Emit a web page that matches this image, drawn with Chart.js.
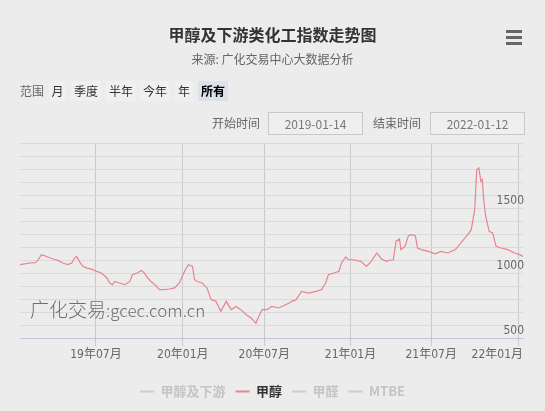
<!DOCTYPE html>
<html>
<head>
<meta charset="utf-8">
<script src="https://cdn.jsdelivr.net/npm/chart.js@4.4.1/dist/chart.umd.min.js"></script>
<style>
  html, body { margin: 0; padding: 0; background: #ececec; }
  #wrap { position: relative; width: 545px; height: 411px; background: #ececec; overflow: hidden;
    font-family: "Noto Sans CJK SC", "Noto Sans", sans-serif; }
  #c { position: absolute; left: 0; top: 0; }
  .abs { position: absolute; white-space: nowrap; }
  #title { left: 0; width: 545px; top: 22px; text-align: center; font-size: 16px; font-weight: bold; color: #333; line-height: 24px; }
  #subtitle { left: 0; width: 545px; top: 50px; text-align: center; font-size: 12px; color: #666; line-height: 18px; }
  .bar { position: absolute; left: 506px; width: 16px; height: 3px; background: #666; }
  .lbl { font-size: 12px; color: #666; line-height: 20px; }
  .btn { font-size: 12px; color: #333; line-height: 20px; height: 20px; text-align: center; background: rgba(255,255,255,0.22); }
  .btn.sel { background: #dde1ea; color: #000; font-weight: bold; }
  .box { border: 1px solid #c8c8c8; height: 21px; line-height: 21px; text-align: center; font-size: 12px; color: #777; background: #efefef; }
  #wm { left: 30px; top: 296px; color: #6e6e6e; font-size: 19px; line-height: 26px; font-weight: 300; }
  #wm span { font-size: 17px; }
</style>
</head>
<body>
<div id="wrap">
  <canvas id="c" width="545" height="411"></canvas>
  <div id="title" class="abs">甲醇及下游类化工指数走势图</div>
  <div id="subtitle" class="abs">来源: 广化交易中心大数据分析</div>
  <div class="bar" style="top:30px"></div>
  <div class="bar" style="top:36px"></div>
  <div class="bar" style="top:42px"></div>

  <div class="abs lbl" style="left:20px; top:81px;">范围</div>
  <div class="abs btn" style="left:49px; top:81px; width:17px;">月</div>
  <div class="abs btn" style="left:71px; top:81px; width:30px;">季度</div>
  <div class="abs btn" style="left:106px; top:81px; width:30px;">半年</div>
  <div class="abs btn" style="left:140px; top:81px; width:30px;">今年</div>
  <div class="abs btn" style="left:175px; top:81px; width:18px;">年</div>
  <div class="abs btn sel" style="left:198px; top:81px; width:30px;">所有</div>

  <div class="abs lbl" style="left:212px; top:113px;">开始时间</div>
  <div class="abs box" style="left:268px; top:112px; width:93px;">2019-01-14</div>
  <div class="abs lbl" style="left:373px; top:113px;">结束时间</div>
  <div class="abs box" style="left:430px; top:112px; width:93px;">2022-01-12</div>

  <div id="wm" class="abs">广化交易<span>:gcec.com.cn</span></div>
</div>
<script>
// ---- data ----
const tradingDay = [0,7,14,22,26,31,36,40,48,55,62,69,75,79,82,87,91,97,104,111,118,126,130,134,137,144,152,159,163,170,176,180,185,190,198,202,209,216,224,231,235,241,244,250,253,257,264,271,277,284,291,299,306,313,320,328,335,342,346,351,358,365,375,385,390,394,400,408,418,429,437,443,447,455,462,466,472,476,483,494,502,509,517,524,531,537,541,545,550,552,558,563,567,573,576,582,592,602,610,620,631,639,649,654,659,662,665,668,670,672,675,680,685,690,697,707,717,724,729];
const methanol = [1064,1070,1077,1080,1097,1140,1133,1123,1108,1097,1077,1064,1077,1115,1128,1082,1051,1038,1030,1012,1000,962,923,910,935,923,910,935,987,1000,1020,1000,962,935,897,872,872,877,885,923,974,1038,1064,1051,949,935,923,885,795,782,705,782,718,743,718,679,654,615,666,718,718,743,731,756,769,782,795,858,846,858,872,923,987,1000,1012,1077,1123,1102,1102,1090,1051,1090,1154,1108,1090,1100,1102,1243,1262,1180,1205,1287,1295,1287,1192,1180,1166,1148,1166,1154,1180,1231,1295,1333,1487,1795,1808,1705,1718,1564,1435,1320,1308,1205,1192,1180,1154,1141,1128];
const xTickPositions = [110, 236, 354, 479, 596, 722];
const xTickLabels = ['19年07月', '20年01月', '20年07月', '21年01月', '21年07月', '22年01月'];
const yLabelValues = [500, 1000, 1500];
const legendNames = ['甲醇及下游', '甲醇', '甲醛', 'MTBE'];
const legendActive = [false, true, false, false];

const LINE = '#e8838f';
const FONT = '"Noto Sans CJK SC", "Noto Sans", sans-serif';
const NUMFONT = '"Liberation Sans Narrow", "DejaVu Sans Condensed", "Noto Sans CJK SC", sans-serif';

const xLabelPlugin = {
  id: 'xLabels',
  afterDraw(chart) {
    const s = chart.scales.x, ctx = chart.ctx, area = chart.chartArea;
    ctx.save();
    ctx.font = '12px ' + NUMFONT;
    ctx.fillStyle = '#666';
    ctx.textAlign = 'center';
    ctx.textBaseline = 'middle';
    xTickPositions.forEach((v, i) => {
      const t = xTickLabels[i];
      const w = ctx.measureText(t).width;
      let x = s.getPixelForValue(v);
      if (x + w / 2 > area.right) x = area.right - w / 2;
      ctx.fillText(t, x, s.top + 17);
    });
    ctx.restore();
  }
};

new Chart(document.getElementById('c'), {
  type: 'line',
  data: {
    datasets: [{
      label: '甲醇',
      data: tradingDay.map((d, i) => ({ x: d, y: methanol[i] })),
      borderColor: LINE,
      borderWidth: 1.2,
      pointRadius: 0,
      tension: 0,
      fill: false
    }]
  },
  options: {
    responsive: false,
    animation: false,
    layout: { padding: { left: 20, right: 20, top: 143, bottom: 3 } },
    plugins: {
      tooltip: { enabled: false },
      legend: {
        position: 'bottom',
        onClick: null,
        labels: {
          usePointStyle: true,
          pointStyleWidth: 14,
          padding: 10,
          font: { size: 13, weight: 'bold', family: FONT },
          generateLabels: () => legendNames.map((n, i) => ({
            text: n,
            fillStyle: legendActive[i] ? LINE : '#cccccc',
            strokeStyle: legendActive[i] ? LINE : '#cccccc',
            fontColor: legendActive[i] ? '#333' : '#c4c4c4',
            lineWidth: 2,
            pointStyle: 'line',
            hidden: false,
            datasetIndex: i
          }))
        }
      }
    },
    scales: {
      x: {
        type: 'linear',
        min: 0,
        max: 729,
        afterBuildTicks: s => { s.ticks = xTickPositions.map(v => ({ value: v })); },
        afterFit: s => { s.height = 37; },
        ticks: { display: false },
        grid: { color: '#c9c9d0', tickLength: 8, lineWidth: 1 },
        border: { display: true, color: '#c0c6da', width: 1 }
      },
      y: {
        position: 'right',
        min: 500,
        max: 2000,
        ticks: {
          stepSize: 100,
          maxTicksLimit: 30,
          autoSkip: false,
          mirror: true,
          padding: 1,
          labelOffset: -7,
          color: '#666',
          font: { size: 12, family: NUMFONT },
          callback: v => yLabelValues.includes(v) ? String(v) : ''
        },
        grid: { color: '#dadada', drawTicks: false, lineWidth: 1 },
        border: { display: false }
      }
    }
  },
  plugins: [xLabelPlugin]
});
</script>
</body>
</html>
